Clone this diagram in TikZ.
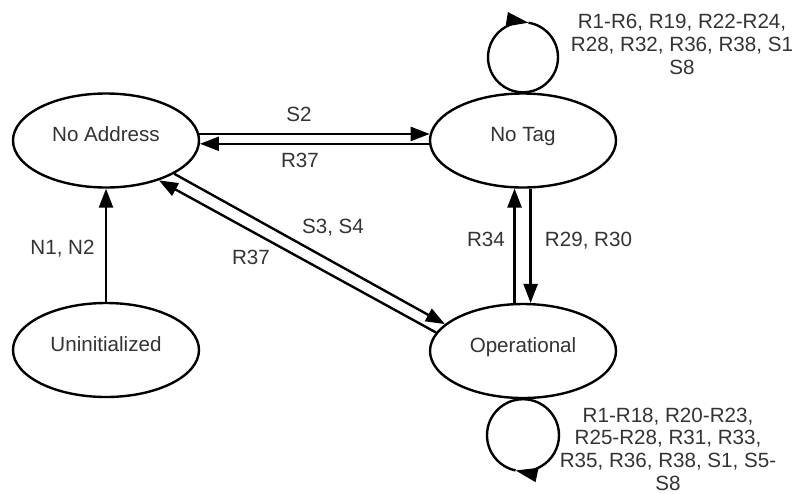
\documentclass[tikz,border=0pt]{standalone}
\usepackage{fontspec}
\setmainfont{Liberation Sans}
\usepackage{xcolor}
\usepackage{tikz}
\usetikzlibrary{arrows.meta,shapes.geometric}
\definecolor{Ink}{HTML}{333333}
\newcommand{\statefont}{\fontsize{10.3}{11.3}\selectfont}
\tikzset{
  every picture/.style={line width=1.2pt},
  statebox/.style={
    ellipse,
    draw=black,
    fill=white,
    minimum width=93pt,
    minimum height=47pt,
    inner sep=0pt,
    text=Ink,
    font=\statefont,
    text height=7.4pt,
    text depth=6pt
  },
  transarrow/.style={-{Triangle[length=9.5pt,width=7pt]}, draw=black},
  looparrow/.style={-{Triangle[length=11pt,width=7pt]}, draw=black},
  loopline/.style={draw=black},
  edgelabel/.style={text=Ink, font=\statefont, inner sep=0pt, text height=7.4pt, text depth=0pt},
  looplabel/.style={text=Ink, font=\statefont, align=center, inner sep=0pt}
}
\begin{document}
\begin{tikzpicture}[x=0.5pt,y=0.5pt]
  \useasboundingbox (0,0) rectangle (796,-493);

  \node[statebox] (noaddr) at (106,-140.5) {No Address};
  \node[statebox] (notag) at (523,-140.5) {No Tag};
  \node[statebox] (oper) at (523,-351) {Operational};
  \node[statebox] (uninit) at (106,-350) {Uninitialized};

  % start up
  \draw[transarrow] (uninit.north) -- (noaddr.south);
  \node[edgelabel] (lbinit) at (62.5,-247.5) {N1, N2};

  % address <-> tag
  \draw[transarrow] (noaddr.4) -- (notag.176);
  \node[edgelabel] (lbstwo) at (299,-114.5) {S2};
  \draw[transarrow] (notag.182) -- (noaddr.-2);
  \node[edgelabel] (lbrtop) at (300,-160.5) {R37};

  % address <-> operational
  \draw[transarrow] (noaddr.-26) -- (oper.161);
  \node[edgelabel] (lbsdiag) at (333,-226.5) {S3, S4};
  \draw[transarrow] (oper.168) -- (noaddr.-37);
  \node[edgelabel] (lbrdiag) at (251,-257) {R37};

  % tag <-> operational
  \draw[transarrow] (oper.100) -- (notag.-100);
  \node[edgelabel] (lbrup) at (486,-239.5) {R34};
  \draw[transarrow] (notag.-81) -- (oper.81);
  \node[edgelabel] (lbrdown) at (588.5,-239.5) {R29, R30};

  % self loops
  \draw[looparrow] (notag.north) arc[start angle=-90, end angle=-279, radius=17.5pt];
  \draw[loopline] (notag.north) arc[start angle=-90, end angle=81, radius=17.5pt];
  \node[looplabel] (lbtagloop) at (682,-44.5)
    {R1-R6, R19, R22-R24,\\R28, R32, R36, R38, S1\\S8};

  \draw[looparrow] (oper.south) arc[start angle=90, end angle=-102, radius=18pt];
  \draw[loopline] (oper.south) arc[start angle=90, end angle=258, radius=18pt];
  \node[looplabel] (lboploop) at (668,-449)
    {R1-R18, R20-R23,\\R25-R28, R31, R33,\\R35, R36, R38, S1, S5-\\S8};
\end{tikzpicture}
\end{document}
